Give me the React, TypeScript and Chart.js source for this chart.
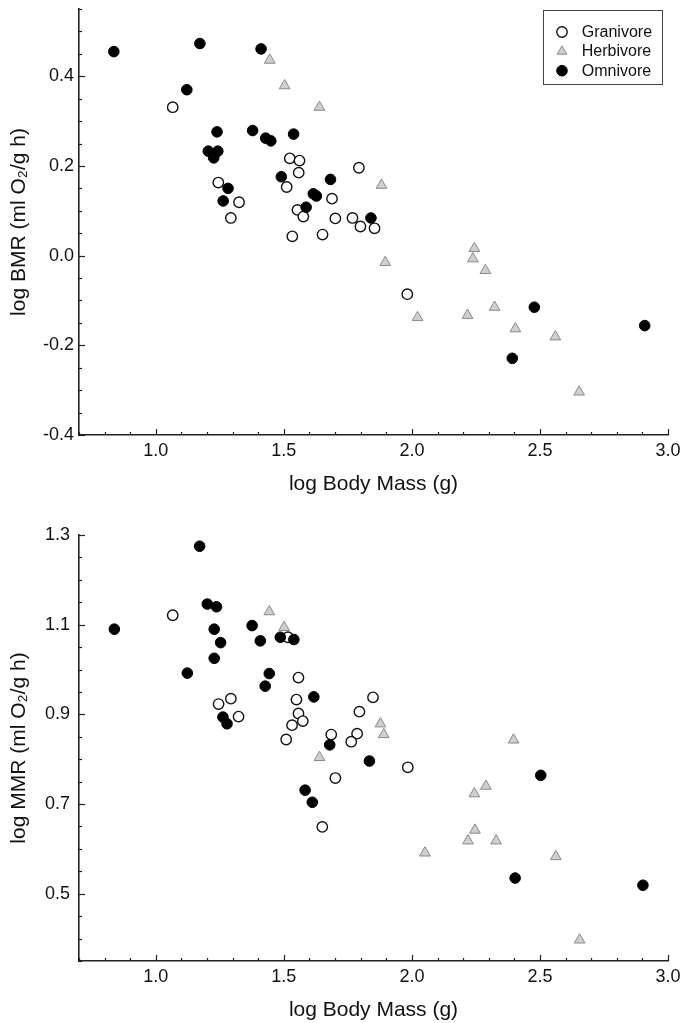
import React, { useEffect, useRef } from "react";
import { Chart, registerables } from "chart.js";

Chart.register(...registerables);

const FONT = "'Liberation Sans', Arial, Helvetica, sans-serif";

// ---------- axis ticks ----------
const massTicks = [0.7, 0.8, 0.9, 1.0, 1.1, 1.2, 1.3, 1.4, 1.5, 1.6, 1.7, 1.8, 1.9, 2.0, 2.1, 2.2, 2.3, 2.4, 2.5, 2.6, 2.7, 2.8, 2.9, 3.0];
const massTickLabels = ["1.0", "1.5", "2.0", "2.5", "3.0"];
const bmrTicks = [-0.4, -0.35, -0.3, -0.25, -0.2, -0.15, -0.1, -0.05, 0, 0.05, 0.1, 0.15, 0.2, 0.25, 0.3, 0.35, 0.4, 0.45, 0.5, 0.55];
const bmrTickLabels = ["-0.4", "-0.2", "0.0", "0.2", "0.4"];
const mmrTicks = [0.35, 0.4, 0.45, 0.5, 0.55, 0.6, 0.65, 0.7, 0.75, 0.8, 0.85, 0.9, 0.95, 1.0, 1.05, 1.1, 1.15, 1.2, 1.25, 1.3];
const mmrTickLabels = ["0.5", "0.7", "0.9", "1.1", "1.3"];

// ---------- series names ----------
const seriesNames = ["Granivore", "Herbivore", "Omnivore"];

// ---------- BMR panel ----------
const granivoreBmrMass = [1.066, 1.523, 1.561, 1.558, 1.793, 1.244, 1.511, 1.325, 1.293, 1.553, 1.576, 1.688, 1.701, 1.768, 1.799, 1.854, 1.533, 1.651, 1.982];
const granivoreBmr = [0.331, 0.217, 0.212, 0.185, 0.196, 0.163, 0.153, 0.119, 0.084, 0.102, 0.087, 0.127, 0.083, 0.084, 0.065, 0.061, 0.043, 0.047, -0.086];

const herbivoreBmrMass = [1.445, 1.503, 1.639, 1.881, 1.896, 2.244, 2.238, 2.287, 2.022, 2.217, 2.323, 2.404, 2.56, 2.653];
const herbivoreBmr = [0.436, 0.379, 0.331, 0.157, -0.015, 0.016, -0.007, -0.033, -0.138, -0.133, -0.115, -0.163, -0.181, -0.304];

const omnivoreBmrMass = [0.836, 1.172, 1.411, 1.121, 1.239, 1.378, 1.429, 1.449, 1.538, 1.205, 1.242, 1.226, 1.282, 1.263, 1.49, 1.615, 1.627, 1.682, 1.587, 1.84, 2.478, 2.392, 2.909];
const omnivoreBmr = [0.455, 0.473, 0.461, 0.37, 0.276, 0.279, 0.262, 0.256, 0.271, 0.233, 0.233, 0.218, 0.15, 0.122, 0.176, 0.138, 0.133, 0.17, 0.108, 0.084, -0.115, -0.229, -0.156];

// ---------- MMR panel ----------
const granivoreMmrMass = [1.066, 1.557, 1.245, 1.293, 1.323, 1.549, 1.557, 1.574, 1.532, 1.509, 1.516, 1.848, 1.795, 1.786, 1.763, 1.685, 1.701, 1.65, 1.984];
const granivoreMmr = [1.121, 0.982, 0.923, 0.935, 0.895, 0.933, 0.902, 0.885, 0.876, 0.844, 1.072, 0.938, 0.906, 0.857, 0.839, 0.855, 0.758, 0.649, 0.782];

const herbivoreMmrMass = [1.443, 1.501, 1.877, 1.89, 1.639, 2.397, 2.051, 2.244, 2.289, 2.246, 2.219, 2.329, 2.562, 2.655];
const herbivoreMmr = [1.129, 1.094, 0.879, 0.855, 0.804, 0.843, 0.591, 0.723, 0.74, 0.642, 0.618, 0.618, 0.583, 0.397];

const omnivoreMmrMass = [0.838, 1.171, 1.201, 1.237, 1.228, 1.253, 1.228, 1.123, 1.376, 1.408, 1.486, 1.539, 1.443, 1.427, 1.262, 1.278, 1.617, 1.679, 1.583, 1.611, 1.834, 2.503, 2.403, 2.902];
const omnivoreMmr = [1.09, 1.275, 1.146, 1.14, 1.09, 1.06, 1.025, 0.992, 1.098, 1.064, 1.072, 1.067, 0.991, 0.963, 0.894, 0.879, 0.939, 0.832, 0.731, 0.704, 0.796, 0.764, 0.535, 0.519];

// ---------- styles ----------
const STYLES = [
  { pointStyle: "circle", radius: 5.2, bg: "#ffffff", border: "#111111", bw: 1.4 },
  { pointStyle: "triangle", radius: 6.2, bg: "#cfcfcf", border: "#8a8a8a", bw: 1 },
  { pointStyle: "circle", radius: 5.3, bg: "#000000", border: "#000000", bw: 1 },
];

const pairs = (xs: number[], ys: number[]) => xs.map((x, i) => ({ x, y: ys[i] }));

const labelFor = (labels: string[]) => (value: number) => {
  const l = labels.find((s) => Math.abs(parseFloat(s) - value) < 1e-6);
  return l ?? "";
};

const innerTicks = {
  id: "innerTicks",
  afterDraw(chart: any) {
    const { ctx, chartArea } = chart;
    const xs = chart.scales.x;
    const ys = chart.scales.y;
    ctx.save();
    ctx.strokeStyle = "#222";
    ctx.lineWidth = 1.2;
    xs.ticks.forEach((t: any) => {
      const px = Math.round(xs.getPixelForValue(t.value)) + 0.5;
      const len = t.label ? 6 : 3;
      ctx.beginPath();
      ctx.moveTo(px, chartArea.bottom);
      ctx.lineTo(px, chartArea.bottom - len);
      ctx.stroke();
    });
    ys.ticks.forEach((t: any) => {
      const py = Math.round(ys.getPixelForValue(t.value)) + 0.5;
      const len = t.label ? 6 : 3;
      ctx.beginPath();
      ctx.moveTo(chartArea.left, py);
      ctx.lineTo(chartArea.left + len, py);
      ctx.stroke();
    });
    ctx.restore();
  },
};

const boxLegend = {
  id: "boxLegend",
  afterDraw(chart: any, _args: any, opts: any) {
    if (!opts || !opts.show) return;
    const { ctx, chartArea } = chart;
    const w = 119.4;
    const h = 74.3;
    const bx = chartArea.right - 124.7;
    const by = chartArea.top + 0.7;
    ctx.save();
    ctx.strokeStyle = "#444";
    ctx.lineWidth = 1;
    ctx.strokeRect(Math.round(bx) + 0.5, Math.round(by) + 0.5, Math.round(w), Math.round(h));
    const rows = [22.3, 41.7, 61];
    seriesNames.forEach((name, i) => {
      const st = STYLES[i];
      const cx = bx + 18.7;
      const cy = by + rows[i];
      ctx.beginPath();
      if (st.pointStyle === "triangle") {
        const r = 5.6;
        let rad = 0;
        ctx.moveTo(cx + Math.sin(rad) * r, cy - Math.cos(rad) * r);
        rad += (2 * Math.PI) / 3;
        ctx.lineTo(cx + Math.sin(rad) * r, cy - Math.cos(rad) * r);
        rad += (2 * Math.PI) / 3;
        ctx.lineTo(cx + Math.sin(rad) * r, cy - Math.cos(rad) * r);
        ctx.closePath();
      } else {
        ctx.arc(cx, cy, st.radius, 0, Math.PI * 2);
      }
      ctx.fillStyle = st.bg;
      ctx.fill();
      ctx.lineWidth = st.bw;
      ctx.strokeStyle = st.border;
      ctx.stroke();
      ctx.fillStyle = "#111";
      ctx.font = `16px ${FONT}`;
      ctx.textAlign = "left";
      ctx.textBaseline = "middle";
      ctx.fillText(name, bx + 38.5, cy + 0.5);
    });
    ctx.restore();
  },
};

function makeDataset(i: number, data: { x: number; y: number }[]) {
  const st = STYLES[i];
  return {
    label: seriesNames[i],
    data,
    pointStyle: st.pointStyle,
    pointRadius: st.radius,
    pointHoverRadius: st.radius,
    pointBackgroundColor: st.bg,
    pointBorderColor: st.border,
    pointBorderWidth: st.bw,
    backgroundColor: st.bg,
    borderColor: st.border,
    showLine: false,
    order: 2 - i,
  };
}

function makeConfig(p: {
  datasets: any[];
  yTicks: number[];
  yLabels: string[];
  yTitle: string;
  yPad: number;
  padTop: number;
  xHeight: number;
  xTitlePadBottom: number;
  legend: boolean;
}) {
  return {
    type: "scatter",
    data: { datasets: p.datasets },
    options: {
      responsive: false,
      animation: false,
      devicePixelRatio: 1,
      layout: { padding: { left: 0, right: 15, top: p.padTop, bottom: 0 } },
      plugins: {
        legend: { display: false },
        tooltip: { enabled: false },
        boxLegend: { show: p.legend },
      },
      scales: {
        x: {
          type: "linear",
          min: 0.7,
          max: 3.0,
          afterBuildTicks: (s: any) => {
            s.ticks = massTicks.map((v) => ({ value: v }));
          },
          afterFit: (s: any) => {
            s.height = p.xHeight;
            s.paddingLeft = 0;
            s.paddingRight = 0;
          },
          grid: { display: false, drawTicks: false },
          border: { display: true, color: "#222", width: 1.6 },
          ticks: {
            autoSkip: false,
            maxRotation: 0,
            minRotation: 0,
            padding: 5,
            color: "#111",
            font: { family: FONT, size: 18 },
            callback: labelFor(massTickLabels),
          },
          title: {
            display: true,
            text: "log Body Mass (g)",
            color: "#111",
            font: { family: FONT, size: 21 },
            padding: { top: 0, bottom: p.xTitlePadBottom },
          },
        },
        y: {
          type: "linear",
          min: p.yTicks[0],
          max: p.yTicks[p.yTicks.length - 1],
          afterBuildTicks: (s: any) => {
            s.ticks = p.yTicks.map((v) => ({ value: v }));
          },
          afterFit: (s: any) => {
            s.width = 79;
            s.paddingTop = 0;
            s.paddingBottom = 0;
          },
          grid: { display: false, drawTicks: false },
          border: { display: true, color: "#222", width: 1.6 },
          ticks: {
            autoSkip: false,
            padding: p.yPad,
            color: "#111",
            font: { family: FONT, size: 18 },
            callback: labelFor(p.yLabels),
          },
          title: {
            display: true,
            text: p.yTitle,
            color: "#111",
            font: { family: FONT, size: 21 },
            padding: { top: 7, bottom: 0 },
          },
        },
      },
    },
    plugins: [innerTicks, boxLegend],
  } as any;
}

export default function App() {
  const topRef = useRef<HTMLCanvasElement | null>(null);
  const botRef = useRef<HTMLCanvasElement | null>(null);

  useEffect(() => {
    if (!topRef.current || !botRef.current) return;
    const top = new Chart(
      topRef.current,
      makeConfig({
        datasets: [
          makeDataset(0, pairs(granivoreBmrMass, granivoreBmr)),
          makeDataset(1, pairs(herbivoreBmrMass, herbivoreBmr)),
          makeDataset(2, pairs(omnivoreBmrMass, omnivoreBmr)),
        ],
        yTicks: bmrTicks,
        yLabels: bmrTickLabels,
        yTitle: "log BMR (ml O\u2082/g h)",
        yPad: 5,
        padTop: 9,
        xHeight: 75,
        xTitlePadBottom: 13,
        legend: true,
      })
    );
    const bottom = new Chart(
      botRef.current,
      makeConfig({
        datasets: [
          makeDataset(0, pairs(granivoreMmrMass, granivoreMmr)),
          makeDataset(1, pairs(herbivoreMmrMass, herbivoreMmr)),
          makeDataset(2, pairs(omnivoreMmrMass, omnivoreMmr)),
        ],
        yTicks: mmrTicks,
        yLabels: mmrTickLabels,
        yTitle: "log MMR (ml O\u2082/g h)",
        yPad: 9,
        padTop: 25,
        xHeight: 62,
        xTitlePadBottom: 0,
        legend: false,
      })
    );
    return () => {
      top.destroy();
      bottom.destroy();
    };
  }, []);

  return (
    <div style={{ position: "absolute", left: 0, top: 0, width: 683, height: 1023, background: "#fff" }}>
      <canvas ref={topRef} width={683} height={510} style={{ display: "block", width: 683, height: 510 }} />
      <canvas ref={botRef} width={683} height={513} style={{ display: "block", width: 683, height: 513 }} />
    </div>
  );
}
